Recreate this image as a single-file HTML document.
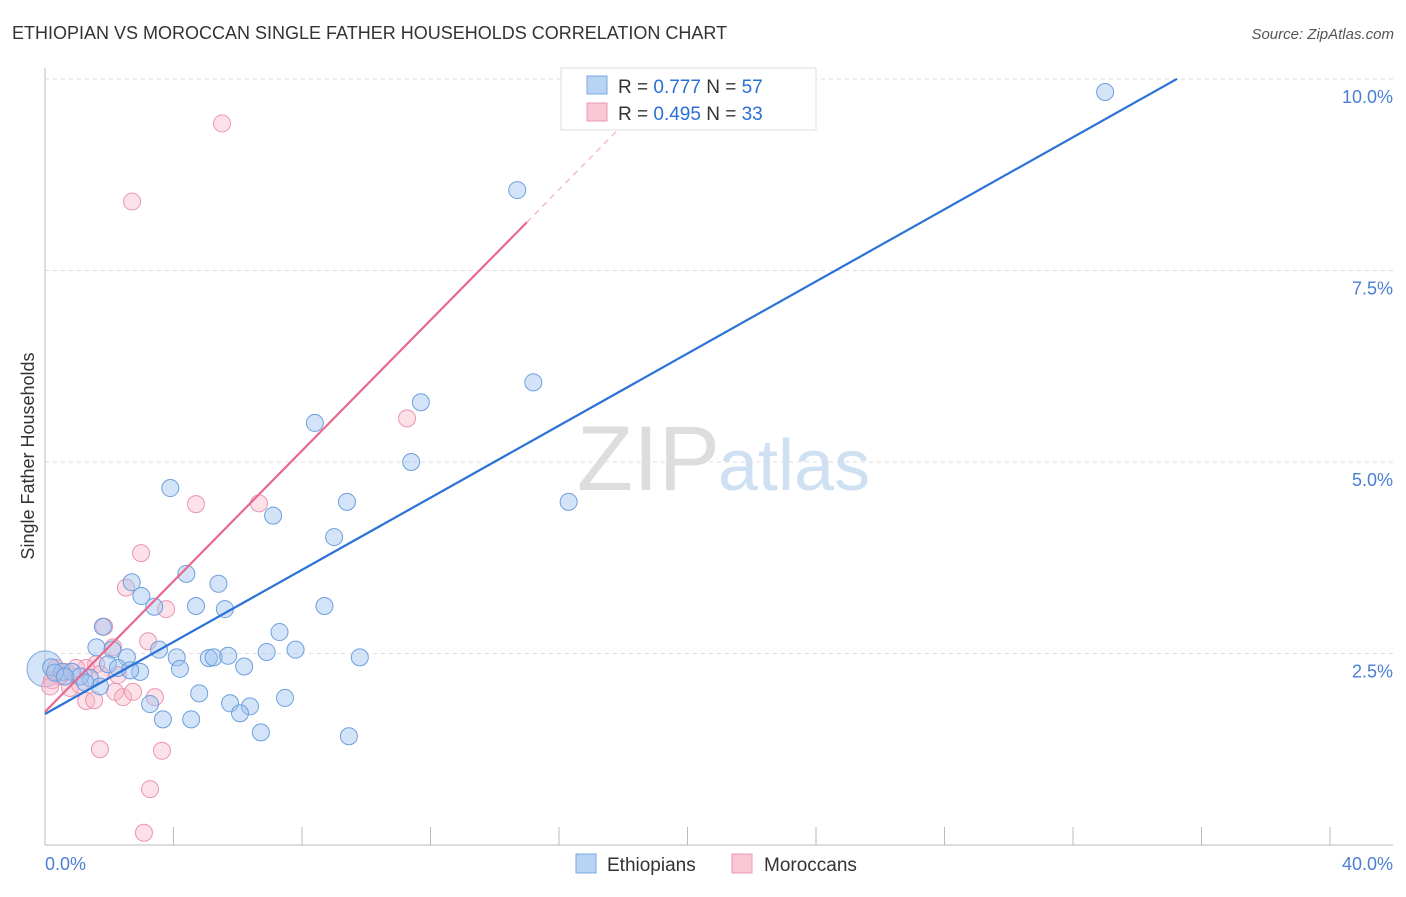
<!DOCTYPE html>
<html><head><meta charset="utf-8"><style>
body{margin:0;background:#fff;font-family:"Liberation Sans",sans-serif}
svg text{font-family:"Liberation Sans",sans-serif}
</style></head><body>
<svg id="c" width="1406" height="892">
<text x="12" y="39" font-size="18" fill="#333">ETHIOPIAN VS MOROCCAN SINGLE FATHER HOUSEHOLDS CORRELATION CHART</text>
<text x="1394" y="39" font-size="15" fill="#555" font-style="italic" text-anchor="end">Source: ZipAtlas.com</text>
<text x="720" y="490" font-size="92" fill="#ddd" text-anchor="end" font-family="Liberation Serif">ZIP</text>
<text x="718" y="490" font-size="72" fill="#cfe0f3">atlas</text>
<g id="grid"></g><g id="pts"></g><g id="lines"></g>
<text transform="translate(34,456) rotate(-90)" font-size="18" fill="#333" text-anchor="middle">Single Father Households</text>
<g>
<rect x="561" y="68" width="255" height="62" fill="#fff" stroke="#ddd"/>
<rect x="587" y="76" width="20" height="18" fill="#b9d3f3" stroke="#7aa8e0"/>
<rect x="587" y="103" width="20" height="18" fill="#f9c6d4" stroke="#ec9ab1"/>
<text x="618" y="93" font-size="19" fill="#333">R = <tspan fill="#2a6fd6">0.777</tspan>   N = <tspan fill="#2a6fd6">57</tspan></text>
<text x="618" y="120" font-size="19" fill="#333">R = <tspan fill="#2a6fd6">0.495</tspan>   N = <tspan fill="#2a6fd6">33</tspan></text>
</g>
<g>
<rect x="576" y="854" width="20" height="19" fill="#b9d3f3" stroke="#7aa8e0"/>
<text x="607" y="871" font-size="19" fill="#333">Ethiopians</text>
<rect x="732" y="854" width="20" height="19" fill="#f9c6d4" stroke="#ec9ab1"/>
<text x="764" y="871" font-size="19" fill="#333">Moroccans</text>
</g>
</svg>
<script>
const xTicks=[0,4,8,12,16,20,24,28,32,36,40];
const yTicks=[2.5,5.0,7.5,10.0];
const blueX=[33,14.7,15.2,11.7,8.4,11.4,3.9,9.4,16.3,7.1,9.0,4.4,2.7,5.4,3.0,3.4,4.7,5.6,8.7,1.8,7.3,1.6,2.1,3.55,7.8,6.9,2.55,4.1,5.1,5.25,5.7,9.8,1.96,0.19,2.27,2.96,4.2,6.2,0.53,0.84,1.4,4.8,7.47,3.27,5.76,6.38,6.07,3.67,4.55,6.72,9.46,1.09,0.31,0.62,1.71,2.65,1.25];
const blueY=[9.83,8.55,6.04,5.78,5.51,5.0,4.66,4.48,4.48,4.3,4.02,3.54,3.43,3.41,3.25,3.11,3.12,3.08,3.12,2.85,2.78,2.58,2.55,2.55,2.55,2.52,2.45,2.45,2.44,2.45,2.47,2.45,2.36,2.32,2.31,2.26,2.3,2.33,2.26,2.26,2.18,1.98,1.92,1.84,1.85,1.81,1.72,1.64,1.64,1.47,1.42,2.2,2.25,2.2,2.07,2.28,2.12];
const pinkX=[5.51,2.71,11.27,6.66,4.7,2.99,2.52,3.77,1.84,2.12,3.21,1.59,1.28,0.97,0.65,0.47,0.22,0.16,0.78,1.71,2.27,2.18,2.43,2.74,3.42,1.28,1.53,1.71,3.64,3.27,3.08,0.34,1.09];
const pinkY=[9.42,8.4,5.57,4.46,4.45,3.81,3.36,3.08,2.85,2.58,2.66,2.36,2.31,2.31,2.26,2.2,2.15,2.07,2.05,2.23,2.22,2.0,1.93,2.0,1.93,1.88,1.89,1.25,1.23,0.73,0.16,2.31,2.09];
const blueFit=[1.71,0.2353], pinkFit=[1.74,0.426];
const X=v=>45+v*32.125, Y=v=>845-v*76.6;
const NS='http://www.w3.org/2000/svg';
function mk(tag,parent,at){const e=document.createElementNS(NS,tag);for(const k in at)e.setAttribute(k,at[k]);parent.appendChild(e);return e;}
const svg=document.getElementById('c'),g=document.getElementById('grid'),p=document.getElementById('pts'),L=document.getElementById('lines');
let ax=mk('line',g,{x1:45,y1:68,x2:45,y2:845,stroke:'#bbb'});


let bx=mk('line',g,{x1:45,y1:845,x2:1393,y2:845,stroke:'#bbb'});


yTicks.forEach(t=>{
 let l=mk('line',g,{x1:45,y1:Y(t),x2:1393,y2:Y(t),stroke:'#ddd','stroke-dasharray':'4,4'});
 
 
 let tx=mk('text',g,{x:1393,y:Y(t)+24,'font-size':18,fill:'#4a7fd4','text-anchor':'end'});
 tx.textContent=t.toFixed(1)+'%';
 
 
});
xTicks.forEach((t,i)=>{
 if(i>0){let l=mk('line',g,{x1:X(t),y1:827,x2:X(t),y2:845,stroke:'#bbb'});
 
 }
});
[[0,'start'],[40,'end']].forEach(([t,a])=>{
 let tx=mk('text',g,{x:t==0?45:1393,y:870,'font-size':18,fill:'#4a7fd4','text-anchor':a});
 tx.textContent=t.toFixed(1)+'%';
 
 
});
let big=mk('circle',p,{cx:X(0),cy:Y(2.3),r:18,fill:'rgba(160,196,240,0.45)',stroke:'#7aa8e0'});


pinkX.forEach((x,i)=>{
 let c=mk('circle',p,{cx:X(x),cy:Y(pinkY[i]),r:8.5,fill:'rgba(248,180,200,0.4)',stroke:'#eb95ae'});
 
 
});
blueX.forEach((x,i)=>{
 let c=mk('circle',p,{cx:X(x),cy:Y(blueY[i]),r:8.5,fill:'rgba(160,196,240,0.45)',stroke:'#6d9fde'});
 
 
});
let bl=mk('line',L,{x1:X(0),y1:Y(blueFit[0]),x2:X(35.24),y2:Y(blueFit[0]+blueFit[1]*35.24),stroke:'#2a72d8','stroke-width':2.2});


let pl=mk('line',L,{x1:X(0),y1:Y(pinkFit[0]),x2:X(15),y2:Y(pinkFit[0]+pinkFit[1]*15),stroke:'#e8688f','stroke-width':2.2});


let pd=mk('line',L,{x1:X(15),y1:Y(pinkFit[0]+pinkFit[1]*15),x2:X(18.6),y2:Y(pinkFit[0]+pinkFit[1]*18.6),stroke:'#f0b0c2','stroke-width':1.2,'stroke-dasharray':'6,5'});


</script>
</body></html>
